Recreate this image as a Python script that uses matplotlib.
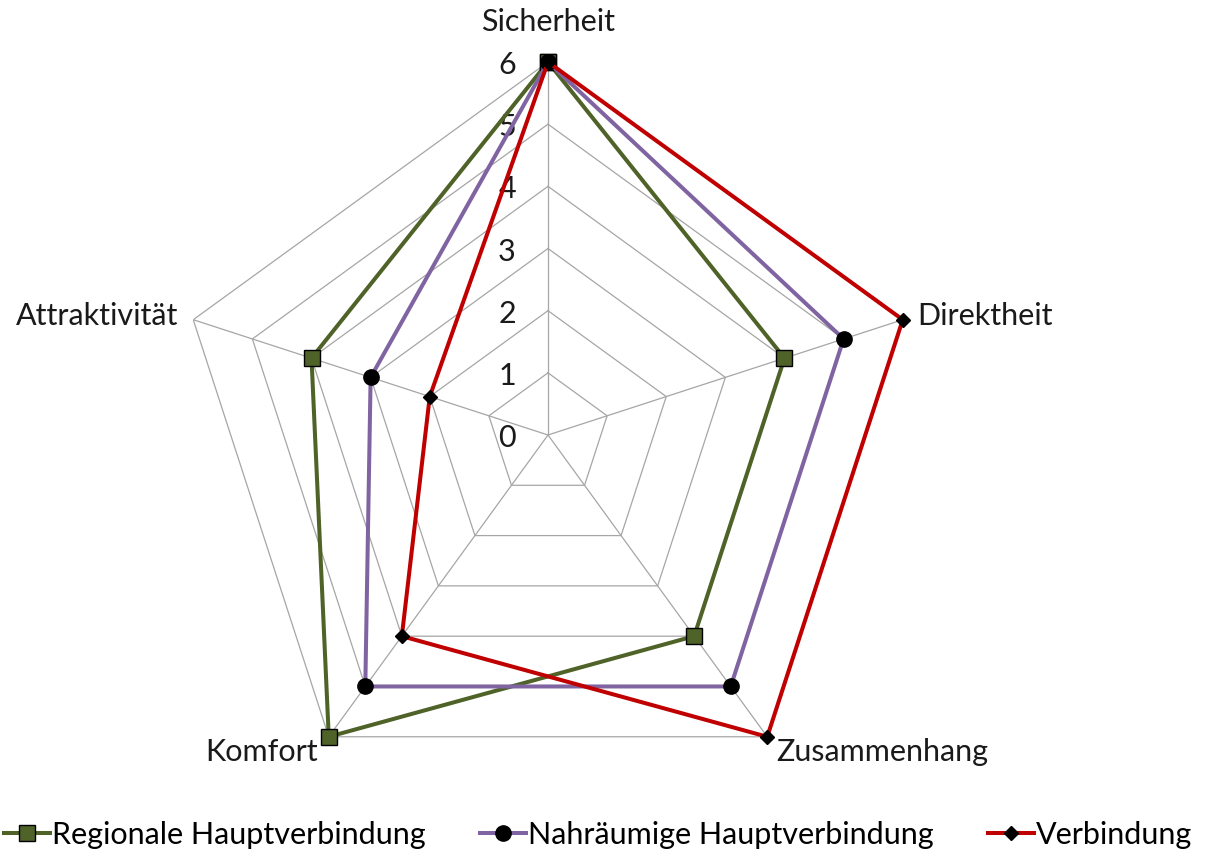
import numpy as np
import matplotlib
matplotlib.use("Agg")
import matplotlib.pyplot as plt

categories = ["Sicherheit", "Direktheit", "Zusammenhang", "Komfort", "Attraktivität"]
series_names = ["Regionale Hauptverbindung", "Nahräumige Hauptverbindung", "Verbindung"]
regional = [6, 4, 4, 6, 4]
nahraeumig = [6, 5, 5, 5, 3]
verbindung = [6, 6, 6, 4, 2]
r_ticks = [0, 1, 2, 3, 4, 5, 6]

plt.rcParams['font.family'] = ['Lato', 'DejaVu Sans']

fig = plt.figure(figsize=(12.09, 8.55), dpi=100)
cx, cy, R = 548, 435, 373
W, H = 1209, 855
ax = fig.add_axes([(cx - R) / W, (H - cy - R) / H, 2 * R / W, 2 * R / H], projection='polar')
ax.set_theta_offset(np.pi / 2)
ax.set_theta_direction(-1)
ax.set_ylim(0, 6)
ax.grid(False)
ax.spines['polar'].set_visible(False)
ax.set_xticks([])
ax.set_yticks([])
ax.patch.set_visible(False)

n = len(categories)
theta = np.arange(n) * 2 * np.pi / n
theta_c = np.append(theta, theta[0])

grid_col = '#a6a6a6'
for r in r_ticks[1:]:
    ax.plot(theta_c, [r] * (n + 1), color=grid_col, lw=0.9, zorder=1)
for t in theta:
    ax.plot([t, t], [0, 6], color=grid_col, lw=0.9, zorder=1)

styles = [
    (regional, '#4f6228', 's', 11, '#4f6228'),
    (nahraeumig, '#8064a2', 'o', 11, 'black'),
    (verbindung, '#c00000', 'D', 7, 'black'),
]
handles = []
for (vals, col, mk, ms, mfc), name in zip(styles, series_names):
    v = list(vals) + [vals[0]]
    h, = ax.plot(theta_c, v, color=col, lw=2.9, marker=mk, markersize=ms,
                 markerfacecolor=mfc, markeredgecolor='black', markeredgewidth=1.0,
                 label=name, zorder=3, clip_on=False)
    handles.append(h)

FS = 22
for r in r_ticks:
    ax.annotate(str(r), xy=(0, r), xytext=(-41, -3), textcoords='offset pixels',
                ha='center', va='center', fontsize=FS, color='#1a1a1a', zorder=2)

offsets = [((0, 40), 'center'), ((15, 4), 'left'), ((9, -15), 'left'),
           ((-11, -15), 'right'), ((-15, 4), 'right')]
for t, lab, (off, ha) in zip(theta, categories, offsets):
    ax.annotate(lab, xy=(t, 6), xytext=off, textcoords='offset pixels',
                ha=ha, va='center', fontsize=FS, color='#1a1a1a', annotation_clip=False)

leg = fig.legend(handles=handles, loc='center', bbox_to_anchor=(598 / W, 1 - 835 / H),
                 ncol=3, frameon=False, fontsize=FS, handlelength=1.5,
                 handletextpad=0.05, columnspacing=1.8, borderaxespad=0, borderpad=0)

fig.savefig('out.png', dpi=100)
